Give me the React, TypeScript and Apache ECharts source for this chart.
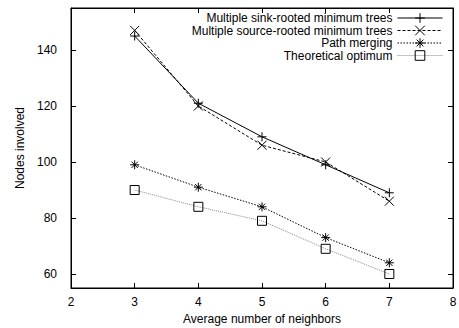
import React, { useEffect, useRef } from "react";
import * as echarts from "echarts";

const xValues = [3, 4, 5, 6, 7];
const seriesNames = [
  "Multiple sink-rooted minimum trees",
  "Multiple source-rooted minimum trees",
  "Path merging",
  "Theoretical optimum",
];
const sinkRooted = [145, 121, 109, 99, 89];
const sourceRooted = [147, 120, 106, 100, 86];
const pathMerging = [99, 91, 84, 73, 64];
const optimum = [90, 84, 79, 69, 60];
const yTickValues = [60, 80, 100, 120, 140];
const xTickValues = [2, 3, 4, 5, 6, 7, 8];

const PLUS = "path://M0,5L10,5M5,0L5,10";
const CROSS = "path://M0,0L10,10M10,0L0,10";
const STAR = "path://M0,5L10,5M5,0L5,10M1.5,1.5L8.5,8.5M8.5,1.5L1.5,8.5";
const SQUARE = "path://M0,0L10,0L10,10L0,10Z";

const FONT = "Liberation Sans, Arial, Helvetica, sans-serif";

export default function App() {
  const ref = useRef<HTMLDivElement>(null);
  useEffect(() => {
    if (!ref.current) return;
    const chart = echarts.init(ref.current, undefined, { renderer: "svg" });
    const mk = (vals: number[]) => xValues.map((x, i) => [x, vals[i]]);
    const datasets = [sinkRooted, sourceRooted, pathMerging, optimum];
    const symbols = [PLUS, CROSS, STAR, SQUARE];
    const sizes = [9, 9, 9, 9];
    const lineTypes: any[] = ["solid", [3, 2], [1.5, 1.5], [1, 1]];
    const colors = ["#000", "#000", "#000", "#888"];
    const legendCenters = [19, 31.5, 44, 56.5];

    const series = datasets.map((d, i) => ({
      name: seriesNames[i],
      type: "line",
      data: mk(d),
      symbol: symbols[i],
      symbolSize: sizes[i],
      showAllSymbol: true,
      color: "#000",
      lineStyle: { color: colors[i], width: 1, type: lineTypes[i] },
      itemStyle: {
        color: "rgba(0,0,0,0)",
        borderColor: "#000",
        borderWidth: 1,
        borderType: "solid",
      },
      emphasis: { disabled: true },
      z: 10 - i,
    }));

    const legends = seriesNames.map((n, i) => ({
      data: [n],
      right: 16,
      top: legendCenters[i] - 7,
      padding: 0,
      align: "right",
      itemWidth: 45,
      itemHeight: 12,
      itemStyle: { color: "rgba(0,0,0,0)", borderColor: "#000", borderWidth: 1, borderType: "solid" },
      lineStyle: { width: 1, color: colors[i], type: lineTypes[i] },
      textStyle: { fontFamily: FONT, fontSize: 12, color: "#000" },
      selectedMode: false,
    }));

    chart.setOption({
      animation: false,
      backgroundColor: "#fff",
      textStyle: { fontFamily: FONT },
      grid: {
        left: 71,
        right: 6,
        top: 8,
        bottom: 40,
        outerBoundsMode: "none",
        containLabel: false,
        show: true,
        borderColor: "#000",
        borderWidth: 1,
        backgroundColor: "transparent",
      },
      legend: legends,
      xAxis: [
        {
          type: "value",
          min: 2,
          max: 8,
          interval: 1,
          name: "Average number of neighbors",
          nameLocation: "middle",
          nameGap: 25,
          nameTextStyle: { fontFamily: FONT, fontSize: 12, color: "#000" },
          axisLine: { show: true, lineStyle: { color: "#000", width: 1 } },
          axisTick: { show: true, inside: true, length: 5, lineStyle: { color: "#000" }, customValues: xTickValues },
          axisLabel: { fontFamily: FONT, fontSize: 12, color: "#000", margin: 8, customValues: xTickValues },
          splitLine: { show: false },
        },
        {
          type: "value",
          position: "top",
          min: 2,
          max: 8,
          interval: 1,
          axisLine: { show: true, lineStyle: { color: "#000", width: 1 } },
          axisTick: { show: true, inside: true, length: 5, lineStyle: { color: "#000" }, customValues: xTickValues },
          axisLabel: { show: false },
          splitLine: { show: false },
        },
      ],
      yAxis: [
        {
          type: "value",
          min: 55,
          max: 155,
          name: "Nodes involved",
          nameLocation: "middle",
          nameGap: 43,
          nameTextStyle: { fontFamily: FONT, fontSize: 12, color: "#000" },
          axisLine: { show: true, lineStyle: { color: "#000", width: 1 } },
          axisTick: { show: true, inside: true, length: 5, lineStyle: { color: "#000" }, customValues: yTickValues },
          axisLabel: { fontFamily: FONT, fontSize: 12, color: "#000", margin: 14, customValues: yTickValues },
          splitLine: { show: false },
        },
        {
          type: "value",
          position: "right",
          min: 55,
          max: 155,
          axisLine: { show: true, lineStyle: { color: "#000", width: 1 } },
          axisTick: { show: true, inside: true, length: 5, lineStyle: { color: "#000" }, customValues: yTickValues },
          axisLabel: { show: false },
          splitLine: { show: false },
        },
      ],
      series,
    });
    return () => chart.dispose();
  }, []);
  return <div ref={ref} style={{ width: 459, height: 328, position: "absolute", left: 0, top: 0 }} />;
}
